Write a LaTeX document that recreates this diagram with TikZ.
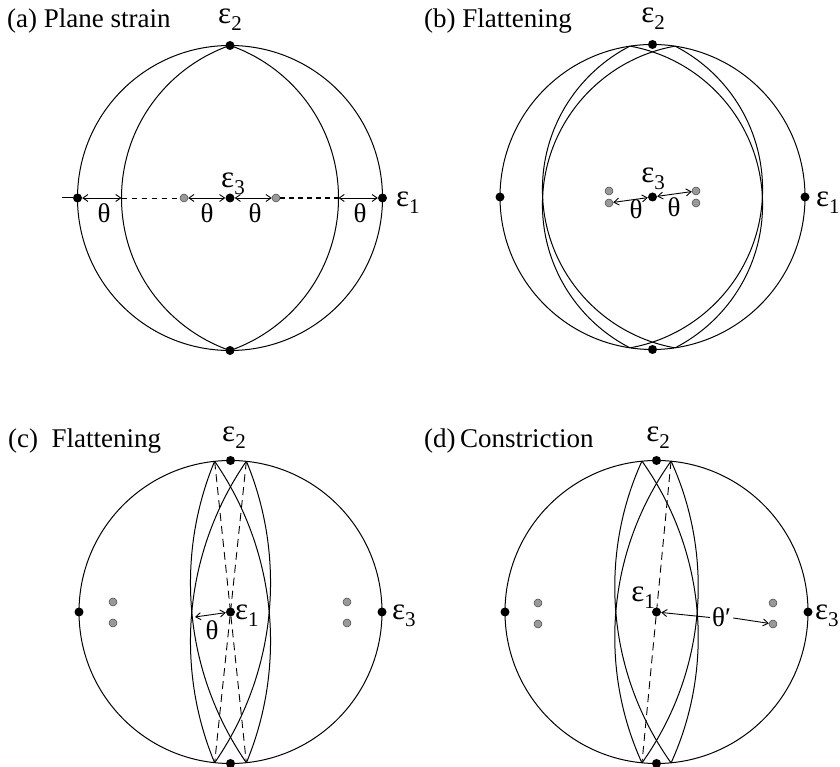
\documentclass[tikz,border=0pt]{standalone}
\usepackage{fontspec}
\setmainfont{Liberation Serif}
\usetikzlibrary{arrows.meta}
\tikzset{
  gline/.style={line width=1pt},
  bdot/.style={circle,fill=black,inner sep=0pt,minimum size=9pt},
  gdot/.style={circle,fill=gray!80,draw=gray!55!black,line width=0.5pt,inner sep=0pt,minimum size=8pt},
  lbl/.style={inner sep=0pt,font=\fontsize{27}{30}\selectfont},
  thl/.style={inner sep=0pt,font=\fontsize{27}{30}\selectfont},
  tip/.tip={Straight Barb[length=5pt,width=7pt]},
  darr/.style={tip-tip,line width=0.9pt},
  sarr/.style={-tip,line width=0.9pt},
  dsh/.style={line width=0.9pt,dash pattern=on 5pt off 5pt},
  dshb/.style={line width=1.5pt,dash pattern=on 5pt off 4pt},
  dshv/.style={line width=0.9pt,dash pattern=on 8pt off 5pt},
}
\newcommand{\ep}[1]{{\fontsize{31}{31}\selectfont ε}\raisebox{-7pt}{\fontsize{21}{21}\selectfont #1}}
\newcommand{\gcarc}[3]{%
  \pgfmathsetmacro\gcc{(#2)/2-((#3)/(#2))*(#3)/2}%
  \pgfmathsetmacro\gcr{abs((#2)/2+((#3)/(#2))*(#3)/2)}%
  \draw[gline] ({-\gcc*cos(#1)},{\gcc*sin(#1)}) circle[radius=\gcr];}
\begin{document}
\begin{tikzpicture}[x=1pt,y=1pt]
\useasboundingbox (0,0) rectangle (840,767);

% ---------------- (a) ----------------
\node[lbl,anchor=base west] (ta) at (7,739) {(a) Plane strain};
\begin{scope}[shift={(230,569)}]
  \draw[gline] (0,0) circle[radius=152.5];
  \begin{scope}
    \clip (0,0) circle[radius=152.5];
    \gcarc{0}{108.5}{152.5}
    \gcarc{0}{-108.5}{152.5}
  \end{scope}
  \coordinate (aS) at (-168,0);
  \coordinate (aAL) at (-108.5,0);
  \coordinate (aAR) at (108.5,0);
  \node[bdot] (aT) at (0,152.5) {};
  \node[bdot] (aB) at (0,-152.5) {};
  \node[bdot] (aL) at (-152.5,0) {};
  \node[bdot] (aR) at (152.5,0) {};
  \node[bdot] (aC) at (0,0) {};
  \node[gdot] (ag1) at (-46,0) {};
  \node[gdot] (ag2) at (46,0) {};
\end{scope}
\draw[gline] (aS) -- (aL);
\draw[darr] (aL) -- (aAL);
\draw[dsh] (aAL) -- (ag1);
\draw[darr] (ag1) -- (aC);
\draw[darr] (aC) -- (ag2);
\draw[dshb] (ag2) -- (aAR);
\draw[darr] (aAR) -- (aR);
\node[lbl,anchor=base] (ae2) at (230,743) {\ep{2}};
\node[lbl,anchor=base] (ae3) at (233,579) {\ep{3}};
\node[lbl,anchor=base west] (ae1) at (396,560) {\ep{1}};
\node[thl,anchor=base] (ath1) at (104,544) {θ};
\node[thl,anchor=base] (ath2) at (207,544) {θ};
\node[thl,anchor=base] (ath3) at (255,544) {θ};
\node[thl,anchor=base] (ath4) at (360,544) {θ};

% ---------------- (b) ----------------
\node[lbl,anchor=base west] (tb) at (424,739) {(b) Flattening};
\begin{scope}[shift={(652.5,570)}]
  \draw[gline] (0,0) circle[radius=152.5];
  \begin{scope}
    \clip (0,0) circle[radius=152.5];
    \gcarc{8.5}{109.5}{152.5}
    \gcarc{8.5}{-109.5}{152.5}
    \gcarc{-8.5}{109.5}{152.5}
    \gcarc{-8.5}{-109.5}{152.5}
  \end{scope}
  \node[bdot] (bT) at (0,152.5) {};
  \node[bdot] (bB) at (0,-152.5) {};
  \node[bdot] (bL) at (-152.5,0) {};
  \node[bdot] (bR) at (152.5,0) {};
  \node[bdot] (bC) at (0,0) {};
  \node[gdot] (bg1) at (-43.5,6) {};
  \node[gdot] (bg2) at (-43.5,-6) {};
  \node[gdot] (bg3) at (43.5,6) {};
  \node[gdot] (bg4) at (43.5,-6) {};
\end{scope}
\draw[darr] (bC) -- (bg2);
\draw[darr] (bC) -- (bg3);
\node[lbl,anchor=base] (be2) at (653,744) {\ep{2}};
\node[lbl,anchor=base] (be3) at (653,584) {\ep{3}};
\node[lbl,anchor=base west] (be1) at (816,560) {\ep{1}};
\node[thl,anchor=base] (bth1) at (636,548) {θ};
\node[thl,anchor=base] (bth2) at (674,550) {θ};

% ---------------- (c) ----------------
\node[lbl,anchor=base west] (tc) at (8,319) {(c)\ \ Flattening};
\begin{scope}[shift={(230.5,155)}]
  \draw[gline] (0,0) circle[radius=151.5];
  \begin{scope}
    \clip (0,0) circle[radius=151.5];
    \gcarc{6}{38.5}{151.5}
    \gcarc{6}{-38.5}{151.5}
    \gcarc{-6}{38.5}{151.5}
    \gcarc{-6}{-38.5}{151.5}
  \end{scope}
  \coordinate (cP1) at ({151.5*sin(6)},{151.5*cos(6)});
  \coordinate (cQ1) at ({-151.5*sin(6)},{-151.5*cos(6)});
  \coordinate (cP2) at ({-151.5*sin(6)},{151.5*cos(6)});
  \coordinate (cQ2) at ({151.5*sin(6)},{-151.5*cos(6)});
  \coordinate (cA) at (-35.5,-5);
  \node[bdot] (cT) at (0,151.5) {};
  \node[bdot] (cB) at (0,-151.5) {};
  \node[bdot] (cL) at (-151.5,0) {};
  \node[bdot] (cR) at (151.5,0) {};
  \node[gdot] (cg1) at (-117.5,10) {};
  \node[gdot] (cg2) at (-117.5,-11) {};
  \node[gdot] (cg3) at (116.5,10) {};
  \node[gdot] (cg4) at (116.5,-11) {};
\end{scope}
\draw[dshv] (cP1) -- (cQ1);
\draw[dshv] (cP2) -- (cQ2);
\node[bdot] (cC) at (230.5,155) {};
\draw[darr] (cA) -- (cC);
\node[lbl,anchor=base] (ce2) at (234,325) {\ep{2}};
\node[lbl,anchor=base west] (ce1) at (235,147) {\ep{1}};
\node[lbl,anchor=base west] (ce3) at (392,147) {\ep{3}};
\node[thl,anchor=base] (cth) at (212,127) {θ};

% ---------------- (d) ----------------
\node[lbl,anchor=base west] (td) at (424,319) {(d)\,Constriction};
\begin{scope}[shift={(656.5,155)}]
  \draw[gline] (0,0) circle[radius=151.5];
  \begin{scope}
    \clip (0,0) circle[radius=151.5];
    \gcarc{5.5}{40.5}{151.5}
    \gcarc{5.5}{-40.5}{151.5}
    \gcarc{-5.5}{40.5}{151.5}
    \gcarc{-5.5}{-40.5}{151.5}
  \end{scope}
  \coordinate (dP1) at ({151.5*sin(5.5)},{151.5*cos(5.5)});
  \coordinate (dQ1) at ({-151.5*sin(5.5)},{-151.5*cos(5.5)});
  \node[bdot] (dT) at (0,151.5) {};
  \node[bdot] (dB) at (0,-151.5) {};
  \node[bdot] (dL) at (-151.5,0) {};
  \node[bdot] (dR) at (151.5,0) {};
  \node[gdot] (dg1) at (-118.5,9) {};
  \node[gdot] (dg2) at (-118.5,-12) {};
  \node[gdot] (dg3) at (116.5,9) {};
  \node[gdot] (dg4) at (116.5,-12) {};
\end{scope}
\draw[dshv] (dP1) -- (dQ1);
\node[bdot] (dC) at (656.5,155) {};
\node[lbl,anchor=base] (de2) at (658,325) {\ep{2}};
\node[lbl,anchor=base] (de1) at (643,165) {\ep{1}};
\node[lbl,anchor=base west] (de3) at (815,147) {\ep{3}};
\node[thl,anchor=base west] (dth) at (712,140) {θ′};
\draw[sarr,shorten <=2pt] (dth.west) -- (dC);
\draw[sarr,shorten <=2pt] (dth.east) -- (dg4);
\end{tikzpicture}
\end{document}
